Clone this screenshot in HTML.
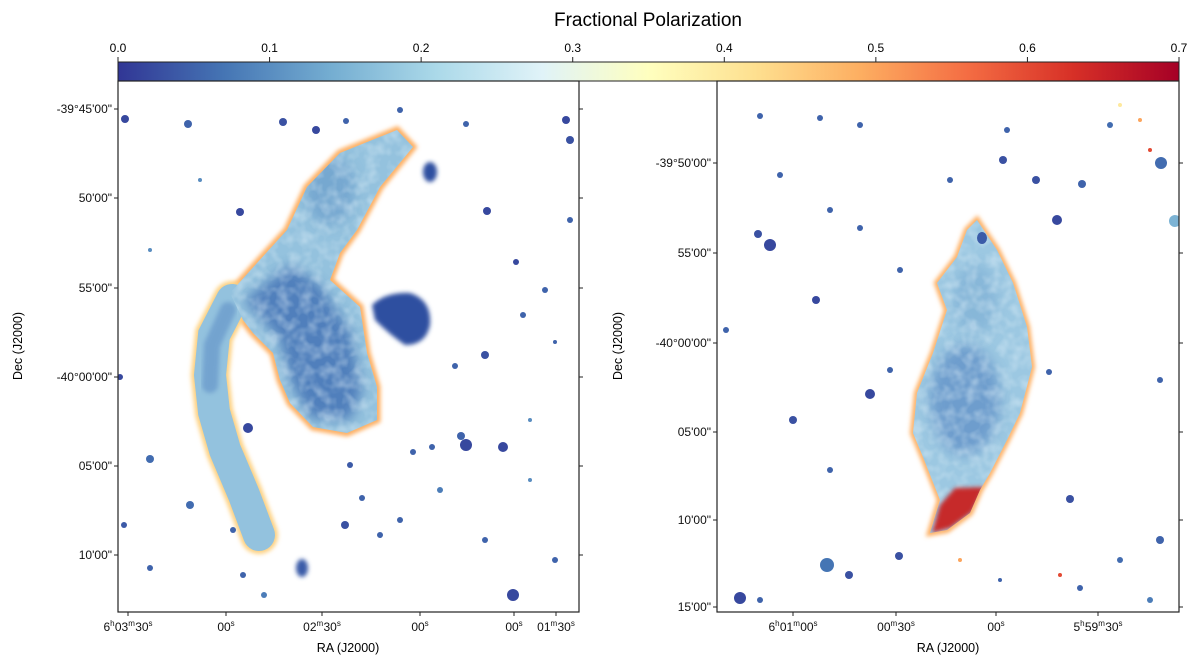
<!DOCTYPE html>
<html><head><meta charset="utf-8"><style>
body{margin:0;background:#fff;}
svg{display:block;font-family:"Liberation Sans","DejaVu Sans",sans-serif;}
</style></head><body>
<svg id="fig" width="1200" height="667" viewBox="0 0 1200 667">
<defs>
<linearGradient id="cmap" x1="0" x2="1" y1="0" y2="0">
<stop offset="0" stop-color="#313695"/><stop offset="0.1" stop-color="#4575b4"/><stop offset="0.2" stop-color="#74add1"/><stop offset="0.3" stop-color="#abd9e9"/><stop offset="0.4" stop-color="#e0f3f8"/><stop offset="0.5" stop-color="#ffffbf"/><stop offset="0.6" stop-color="#fee090"/><stop offset="0.7" stop-color="#fdae61"/><stop offset="0.8" stop-color="#f46d43"/><stop offset="0.9" stop-color="#d73027"/><stop offset="1" stop-color="#a50026"/>
</linearGradient>
<filter id="blur2" x="-50%" y="-50%" width="200%" height="200%"><feGaussianBlur stdDeviation="2"/></filter>
<filter id="blur5" x="-50%" y="-50%" width="200%" height="200%"><feGaussianBlur stdDeviation="6"/></filter>
<filter id="mottle" x="0" y="0" width="100%" height="100%">
<feTurbulence type="fractalNoise" baseFrequency="0.09" numOctaves="2" seed="3"/>
<feColorMatrix type="matrix" values="0 0 0 0 0.75  0 0 0 0 0.88  0 0 0 0 0.95  0 0 0 -2.2 1.4"/>
<feComposite in2="SourceGraphic" operator="in"/>
</filter>
<clipPath id="clipL"><rect x="118" y="81" width="461" height="531"/></clipPath>
<clipPath id="clipR"><rect x="717" y="81" width="462" height="531"/></clipPath>
<clipPath id="nebL">
 <path d="M397,130 L413,147 L380,187 L357,230 L340,253 L330,280 L360,307 L367,353 L377,387 L377,420 L347,433 L313,427 L290,403 L280,380 L273,353 L253,333 L243,320 L230,293 L257,263 L287,230 L307,187 L340,153 Z"/>
</clipPath>
<clipPath id="nebR">
 <path d="M977,220 L997,250 L1013,283 L1027,327 L1032,367 L1020,413 L1007,440 L990,473 L980,490 L970,513 L947,530 L930,533 L940,500 L923,457 L913,433 L917,393 L933,353 L947,310 L937,283 L957,257 L967,230 Z"/>
</clipPath>
</defs>

<text x="648" y="26" font-size="19" text-anchor="middle">Fractional Polarization</text>
<rect x="118" y="62" width="1061" height="19" fill="url(#cmap)" stroke="#222" stroke-width="1"/>
<g id="cbticks"></g>

<g clip-path="url(#clipL)">
 <g>
  <path filter="url(#blur2)" fill="none" stroke="#fdae61" stroke-width="7" d="M397,130 L413,147 L380,187 L357,230 L340,253 L330,280 L360,307 L367,353 L377,387 L377,420 L347,433 L313,427 L290,403 L280,380 L273,353 L253,333 L243,320 L230,293 L257,263 L287,230 L307,187 L340,153 Z"/>
  <path filter="url(#blur2)" fill="none" stroke="#fdd080" stroke-width="38" stroke-linecap="round" d="M232,300 L214,335 L210,375 L214,412 L225,450 L244,495 L259,535"/>
  <path fill="none" stroke="#93c2de" stroke-width="32" stroke-linecap="round" d="M232,300 L214,335 L210,375 L214,412 L225,450 L244,495 L259,535"/>
  <path fill="none" stroke="#5f8fc6" stroke-width="16" stroke-linecap="round" opacity="0.6" filter="url(#blur2)" d="M228,310 L212,345 L210,385"/>
  <path fill="#94c2de" d="M397,130 L413,147 L380,187 L357,230 L340,253 L330,280 L360,307 L367,353 L377,387 L377,420 L347,433 L313,427 L290,403 L280,380 L273,353 L253,333 L243,320 L230,293 L257,263 L287,230 L307,187 L340,153 Z"/>
  <g clip-path="url(#nebL)">
   <path filter="url(#blur5)" fill="#4a78b8" opacity="0.9" d="M245,300 L290,265 L320,285 L350,330 L362,390 L350,420 L310,418 L290,380 L280,340 Z"/>
   <ellipse filter="url(#blur5)" cx="330" cy="190" rx="25" ry="35" fill="#6a9dcb" opacity="0.7"/>
   <rect x="180" y="120" width="260" height="330" fill="#fff" filter="url(#mottle)" opacity="0.4"/>
  </g>
  <path fill="#2f4fa0" filter="url(#blur2)" d="M372,305 Q385,292 410,293 Q432,300 430,325 Q426,345 405,345 Q390,335 375,320 Z"/>
  <ellipse filter="url(#blur2)" cx="430" cy="172" rx="7" ry="10" fill="#2f4fa0"/>
  <ellipse filter="url(#blur2)" cx="302" cy="568" rx="6" ry="9" fill="#3a5ba8"/>
 </g>
 <g id="dotsL"></g>
</g>
<g clip-path="url(#clipR)">
 <g>
  <path filter="url(#blur2)" fill="none" stroke="#fdae61" stroke-width="6" d="M977,220 L997,250 L1013,283 L1027,327 L1032,367 L1020,413 L1007,440 L990,473 L980,490 L970,513 L947,530 L930,533 L940,500 L923,457 L913,433 L917,393 L933,353 L947,310 L937,283 L957,257 L967,230 Z"/>
  <path fill="#9cc8e2" d="M977,220 L997,250 L1013,283 L1027,327 L1032,367 L1020,413 L1007,440 L990,473 L980,490 L970,513 L947,530 L930,533 L940,500 L923,457 L913,433 L917,393 L933,353 L947,310 L937,283 L957,257 L967,230 Z"/>
  <g clip-path="url(#nebR)">
   <ellipse filter="url(#blur5)" cx="965" cy="400" rx="35" ry="55" fill="#5f8fc6" opacity="0.75"/>
   <ellipse filter="url(#blur5)" cx="975" cy="300" rx="22" ry="35" fill="#7aacd3" opacity="0.6"/>
   <rect x="900" y="210" width="140" height="330" fill="#fff" filter="url(#mottle)" opacity="0.4"/>
   <path filter="url(#blur2)" fill="#c62a2a" d="M955,488 L985,487 L972,512 L950,528 L932,533 L940,505 Z"/>
  </g>
  <ellipse cx="982" cy="238" rx="5" ry="6" fill="#3a5ba8"/>
 </g>
 <g id="dotsR"></g>
</g>

<g fill="none" stroke="#222" stroke-width="1.2">
 <rect x="118" y="81" width="461" height="531"/>
 <rect x="717" y="81" width="462" height="531"/>
</g>
<g id="axes" font-size="12" fill="#111"></g>
<text x="348" y="652" font-size="12.5" text-anchor="middle">RA (J2000)</text>
<text x="948" y="652" font-size="12.5" text-anchor="middle">RA (J2000)</text>
<text transform="translate(22,346) rotate(-90)" font-size="12.5" text-anchor="middle">Dec (J2000)</text>
<text transform="translate(622,346) rotate(-90)" font-size="12.5" text-anchor="middle">Dec (J2000)</text>
</svg>
<script>
const cbTicks=[0.0,0.1,0.2,0.3,0.4,0.5,0.6,0.7];
const leftDecLabels=['-39°45\'00"','50\'00"','55\'00"','-40°00\'00"','05\'00"','10\'00"'];
const leftDecY=[109,198,288,377,466,555];
const leftRaLabels=['6h03m30s','00s','02m30s','00s','00s','01m30s'];
const leftRaX=[128,226,322,420,514,556];
const rightDecLabels=['-39°50\'00"','55\'00"','-40°00\'00"','05\'00"','10\'00"','15\'00"'];
const rightDecY=[163,253,343,432,520,607];
const rightRaLabels=['6h01m00s','00m30s','00s','5h59m30s'];
const rightRaX=[793,896,996,1098];
// point sources: [x, y, r, valueLevel(0-0.7)]
const srcL=[[125,119,4,0.02],[188,124,4,0.05],[240,212,4,0.02],[283,122,4,0.03],[316,130,4,0.02],[346,121,3,0.05],[400,110,3,0.05],[466,124,3,0.05],[487,211,4,0.02],[516,262,3,0.02],[566,120,4,0.02],[570,140,4,0.03],[570,220,3,0.05],[555,342,2,0.05],[120,377,3,0.02],[150,459,4,0.06],[248,428,5,0.02],[466,445,6,0.02],[503,447,5,0.02],[461,436,4,0.05],[513,595,6,0.02],[345,525,4,0.03],[362,498,3,0.05],[380,535,3,0.05],[400,520,3,0.05],[432,447,3,0.05],[413,452,3,0.05],[455,366,3,0.05],[485,355,4,0.03],[523,315,3,0.05],[545,290,3,0.05],[150,568,3,0.05],[233,530,3,0.05],[243,575,3,0.05],[264,595,3,0.08],[190,505,4,0.06],[124,525,3,0.04],[485,540,3,0.05],[555,560,3,0.05],[440,490,3,0.08],[200,180,2,0.1],[150,250,2,0.1],[530,420,2,0.1],[530,480,2,0.1],[350,465,3,0.04]];
const srcR=[[770,245,6,0.02],[758,234,4,0.03],[816,300,4,0.02],[870,394,5,0.02],[827,565,7,0.07],[849,575,4,0.03],[899,556,4,0.03],[740,598,6,0.02],[793,420,4,0.03],[1057,220,5,0.02],[1036,180,4,0.03],[1003,160,4,0.03],[1007,130,3,0.05],[1082,184,4,0.05],[1161,163,6,0.06],[1175,221,6,0.15],[1049,372,3,0.05],[1070,499,4,0.03],[1160,380,3,0.05],[1160,540,4,0.05],[726,330,3,0.05],[760,116,3,0.05],[820,118,3,0.05],[860,125,3,0.05],[780,175,3,0.05],[830,210,3,0.05],[860,228,3,0.05],[900,270,3,0.05],[950,180,3,0.05],[1110,125,3,0.06],[1000,580,2,0.05],[1080,588,3,0.05],[1120,560,3,0.06],[1150,600,3,0.08],[890,370,3,0.05],[830,470,3,0.05],[760,600,3,0.05],[1140,120,2,0.5],[1150,150,2,0.6],[1120,105,2,0.4],[1060,575,2,0.6],[960,560,2,0.5]];
const NS='http://www.w3.org/2000/svg';
function cmapColor(v){
 const st=['#313695','#4575b4','#74add1','#abd9e9','#e0f3f8','#ffffbf','#fee090','#fdae61','#f46d43','#d73027','#a50026'];
 const t=Math.max(0,Math.min(1,v/0.7))*(st.length-1);const i=Math.min(st.length-2,Math.floor(t));const f=t-i;
 const a=st[i],b=st[i+1];const c=k=>Math.round(parseInt(a.substr(k,2),16)*(1-f)+parseInt(b.substr(k,2),16)*f);
 return 'rgb('+c(1)+','+c(3)+','+c(5)+')';
}
const cbX=v=>118+v/0.7*1061;
function mk(tag,attrs,parent){const e=document.createElementNS(NS,tag);for(const k in attrs)e.setAttribute(k,attrs[k]);parent.appendChild(e);return e;}
const cbg=document.getElementById('cbticks');
cbTicks.forEach(v=>{
 const l=mk('line',{x1:cbX(v),x2:cbX(v),y1:57,y2:62,stroke:'#222'},cbg);
 
 
 const t=mk('text',{x:cbX(v),y:52,'font-size':12,'text-anchor':'middle'},cbg);t.textContent=v.toFixed(1);
 
 
});
function drawDots(arr,id){
 const g=document.getElementById(id);
 arr.forEach(s=>{
  const c=mk('circle',{cx:s[0],cy:s[1],r:s[2],fill:cmapColor(s[3])},g);
  
  
 });
}
drawDots(srcL,'dotsL');drawDots(srcR,'dotsR');
const ax=document.getElementById('axes');
function raText(lbl,x,y){
 const t=mk('text',{x:x,y:y,'text-anchor':'middle'},ax);
 const parts=lbl.match(/(\d+)([hms])/g);
 parts.forEach(p=>{const n=p.slice(0,-1),u=p.slice(-1);
  const a=mk('tspan',{},t);a.textContent=n;
  const b=mk('tspan',{'font-size':8,dy:-5},t);b.textContent=u;
  const c=mk('tspan',{'font-size':1,dy:5},t);c.textContent=' ';});
 
 
}
function decAxis(labels,ys,xl,xr){
 labels.forEach((lb,i)=>{
  const y=ys[i];
  mk('line',{x1:xl-4,x2:xl,y1:y,y2:y,stroke:'#222'},ax);
  mk('line',{x1:xr,x2:xr+4,y1:y,y2:y,stroke:'#222'},ax);
  const t=mk('text',{x:xl-6,y:y+4,'text-anchor':'end'},ax);t.textContent=lb;
  
  
 });
}
function raAxis(labels,xs,yb){
 labels.forEach((lb,i)=>{
  mk('line',{x1:xs[i],x2:xs[i],y1:yb,y2:yb+4,stroke:'#222'},ax);
  raText(lb,xs[i],yb+19);
 });
}
decAxis(leftDecLabels,leftDecY,118,579);
decAxis(rightDecLabels,rightDecY,717,1179);
raAxis(leftRaLabels,leftRaX,612);
raAxis(rightRaLabels,rightRaX,612);
</script>
</body></html>
